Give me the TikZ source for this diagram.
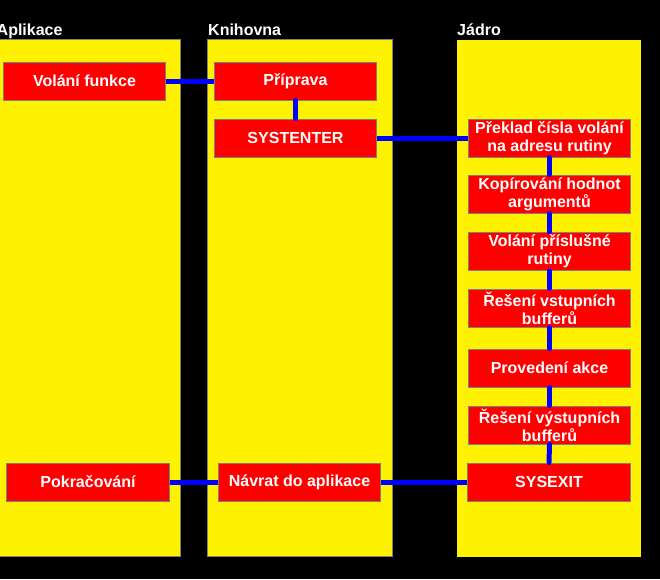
\documentclass[tikz,border=0pt]{standalone}
\usepackage{fontspec}
\setmainfont{Liberation Sans}
\begin{document}
\begin{tikzpicture}[x=1pt,y=-1pt,
  colbox/.style={fill=yellow, draw=gray, line width=1pt},
  box/.style={fill=red, draw=gray, line width=1pt, inner sep=0pt, text=white,
     font=\fontsize{16}{18}\selectfont\bfseries, align=center,
     minimum width=162.4pt, minimum height=38pt},
  title/.style={text=white, font=\fontsize{16}{18}\selectfont\bfseries, inner sep=0pt, anchor=base west},
  hlink/.style={draw=blue, line width=5pt},
  vlink/.style={draw=blue, line width=5pt, line cap=round}]
\fill[black] (0,0) rectangle (660,579);
\useasboundingbox (0,0) rectangle (660,579);
% columns
\path[colbox] (-5,39.3) rectangle (180.3,556.7);
\path[colbox] (207.3,39.3) rectangle (392.3,556.7);
\fill[yellow] (457,40) rectangle (640.7,556.7);
% titles
\node[title] (tA) at (-3.5,35.5) {Aplikace};
\node[title] (tK) at (208,35.5) {Knihovna};
\node[title] (tJ) at (457,35.5) {Jádro};
% application
\node[box] (vf) at (84.5,81) {Volání funkce};
\node[box] (pk) at (88,482) {Pokračování};
% library
\node[box] (pr) at (295.5,81) {Příprava};
\node[box] (se) at (295.5,138) {SYSTENTER};
\node[box] (na) at (299.5,482) {Návrat do aplikace};
% kernel
\node[box] (k1) at (549.5,138) {Překlad čísla volání\\na adresu rutiny};
\node[box] (k2) at (549.5,194) {Kopírování hodnot\\argumentů};
\node[box] (k3) at (549.5,251.3) {Volání příslušné\\rutiny};
\node[box] (k4) at (549.5,308) {Řešení vstupních\\bufferů};
\node[box] (k5) at (549.5,368) {Provedení akce};
\node[box] (k6) at (549.5,425) {Řešení výstupních\\bufferů};
\node[box] (k7) at (549,482) {SYSEXIT};
% connectors
\draw[hlink] (vf.east) -- (pr.west);
\draw[vlink] (pr.south) -- (se.north);
\draw[hlink] (se.east) -- (k1.west);
\draw[vlink] (k1.south) -- (k2.north);
\draw[vlink] (k2.south) -- (k3.north);
\draw[vlink] (k3.south) -- (k4.north);
\draw[vlink] (k4.south) -- (k5.north);
\draw[vlink] (k5.south) -- (k6.north);
\draw[vlink] (k6.south) -- (k7.north);
\draw[hlink] (k7.west) -- (na.east);
\draw[hlink] (na.west) -- (pk.east);
\end{tikzpicture}
\end{document}
